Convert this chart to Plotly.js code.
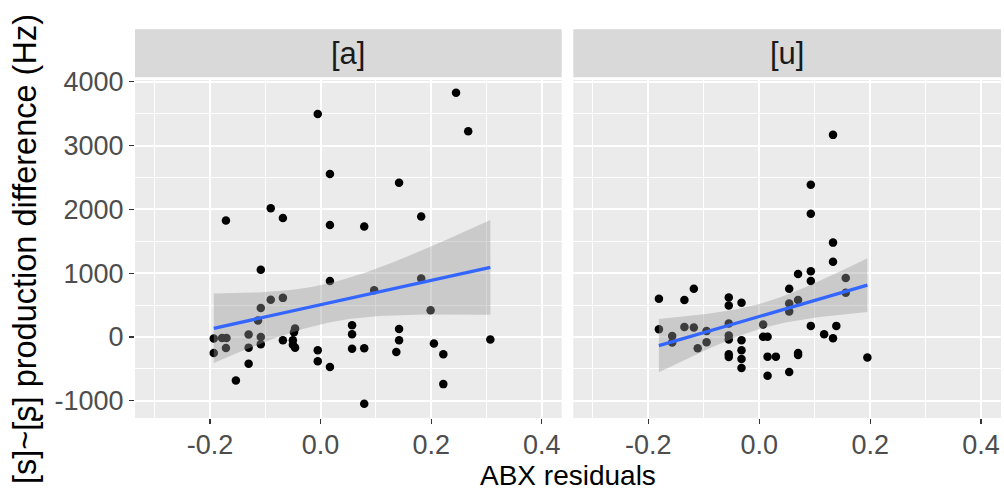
<!DOCTYPE html>
<html>
<head>
<meta charset="utf-8">
<script src="https://cdn.plot.ly/plotly-3.0.1.min.js"></script>
<style>html,body{margin:0;padding:0;background:#fff;}#chart{width:1004px;height:491px;}</style>
</head>
<body>
<div id="chart"></div>
<script>
// Facet labels
const facetLabels = ["[a]", "[u]"];

// Panel [a] data: ABX residuals vs production difference (Hz)
const xA = [-0.005, 0.017, -0.090, -0.171, -0.068, 0.017, -0.108, 0.017, -0.090, -0.068,
            -0.108, -0.113, -0.046, -0.048, -0.130, -0.193, -0.170, -0.178, -0.108, -0.108,
            -0.068, -0.050, -0.050, -0.046, -0.171, -0.193, -0.130, -0.130, -0.153, -0.005,
            -0.005, 0.017, 0.057, 0.057, 0.057, 0.245, 0.267, 0.142, 0.182, 0.079,
            0.182, 0.097, 0.199, 0.142, 0.142, 0.079, 0.137, 0.205, 0.222, 0.307,
            0.222, 0.079];
const yA = [3495, 2552, 2018, 1823, 1865, 1755, 1052, 875, 581, 612,
            455, 257, 131, 75, 37, -26, -17, -17, 0, -116,
            -53, -53, -121, -168, -173, -252, -168, -420, -682, -210,
            -383, -472, 183, 41, -184, 3826, 3222, 2416, 1886, 1729,
            917, 733, 419, 125, -53, -179, -237, -105, -273, -42,
            -740, -1048];

// Panel [u] data
const xU = [-0.181, -0.181, -0.157, -0.157, -0.135, -0.118, -0.135, -0.118, -0.111, -0.095,
            -0.095, -0.055, -0.055, -0.032, -0.055, -0.055, -0.055, -0.055, -0.055, -0.032,
            -0.032, -0.032, -0.032, 0.007, 0.007, 0.015, 0.015, 0.030, 0.015, 0.133,
            0.093, 0.093, 0.133, 0.133, 0.070, 0.093, 0.093, 0.054, 0.054, 0.070,
            0.054, 0.156, 0.156, 0.093, 0.139, 0.117, 0.133, 0.070, 0.070, 0.054,
            0.195];
const yU = [598, 121, 16, -88, 577, 755, 157, 148, -178, 94,
            -83, 619, 493, 535, 210, 22, -41, -272, -314, -52,
            -209, -346, -487, 195, 1, 1, -309, -309, -607, 3167,
            2385, 1929, 1478, 1179, 986, 1028, 876, 755, 525, 577,
            399, 923, 692, 173, 173, 42, -20, -251, -283, -550,
            -324];

// Axis ticks
const xTickVals = [-0.2, 0.0, 0.2, 0.4];
const xTickText = ["-0.2", "0.0", "0.2", "0.4"];
const xMinorVals = [-0.3, -0.1, 0.1, 0.3];
const yTickVals = [-1000, 0, 1000, 2000, 3000, 4000];
const yTickText = ["-1000", "0", "1000", "2000", "3000", "4000"];
const yMinorVals = [-500, 500, 1500, 2500, 3500];

// t quantile (0.975) via Cornish-Fisher expansion
function tq975(df) {
  const z = 1.959964;
  const g1 = (Math.pow(z,3) + z) / 4;
  const g2 = (5*Math.pow(z,5) + 16*Math.pow(z,3) + 3*z) / 96;
  const g3 = (3*Math.pow(z,7) + 19*Math.pow(z,5) + 17*Math.pow(z,3) - 15*z) / 384;
  return z + g1/df + g2/(df*df) + g3/(df*df*df);
}

// Linear fit with 95% confidence band (like geom_smooth(method = "lm"))
function lmBand(x, y) {
  const n = x.length;
  const mx = x.reduce((s,v)=>s+v,0)/n;
  const my = y.reduce((s,v)=>s+v,0)/n;
  let sxx = 0, sxy = 0;
  for (let i=0;i<n;i++){ sxx += (x[i]-mx)*(x[i]-mx); sxy += (x[i]-mx)*(y[i]-my); }
  const b = sxy/sxx, a = my - b*mx;
  let sse = 0;
  for (let i=0;i<n;i++){ const r = y[i] - (a + b*x[i]); sse += r*r; }
  const s = Math.sqrt(sse/(n-2));
  const t = tq975(n-2);
  const xmin = Math.min(...x), xmax = Math.max(...x);
  const xs = [], fit = [], lo = [], hi = [];
  for (let k=0;k<80;k++){
    const xv = xmin + (xmax-xmin)*k/79;
    const f = a + b*xv;
    const se = s*Math.sqrt(1/n + (xv-mx)*(xv-mx)/sxx);
    xs.push(xv); fit.push(f); lo.push(f - t*se); hi.push(f + t*se);
  }
  return {xs, fit, lo, hi};
}

const fA = lmBand(xA, yA);
const fU = lmBand(xU, yU);

const ptMarker = {color: '#000000', size: 8.5, line: {width: 0}};
const bandColor = 'rgba(153,153,153,0.4)';
const lineColor = '#3366FF';

function bandTrace(f, xa) {
  return {
    x: f.xs.concat(f.xs.slice().reverse()),
    y: f.hi.concat(f.lo.slice().reverse()),
    xaxis: xa, yaxis: 'y',
    mode: 'lines', fill: 'toself', fillcolor: bandColor,
    line: {width: 0, color: 'rgba(0,0,0,0)'}, hoverinfo: 'skip', showlegend: false
  };
}

const traces = [
  {x: xA, y: yA, xaxis: 'x', yaxis: 'y', mode: 'markers', type: 'scatter', marker: ptMarker, showlegend: false},
  {x: xU, y: yU, xaxis: 'x2', yaxis: 'y', mode: 'markers', type: 'scatter', marker: ptMarker, showlegend: false},
  bandTrace(fA, 'x'),
  bandTrace(fU, 'x2'),
  {x: fA.xs, y: fA.fit, xaxis: 'x', yaxis: 'y', mode: 'lines', line: {color: lineColor, width: 3.3}, showlegend: false},
  {x: fU.xs, y: fU.fit, xaxis: 'x2', yaxis: 'y', mode: 'lines', line: {color: lineColor, width: 3.3}, showlegend: false}
];

const FONT = '"Liberation Sans", Arial, Helvetica, sans-serif';
const tickFont = {family: FONT, size: 27, color: '#4D4D4D'};
const xr = [-0.3354, 0.436];

function xAxisDef(domain) {
  return {
    domain: domain, range: xr, anchor: 'y',
    tickmode: 'array', tickvals: xTickVals, ticktext: xTickText,
    ticks: 'outside', ticklen: 5, tickwidth: 1.2, tickcolor: '#333333',
    ticklabelstandoff: -2,
    tickfont: tickFont, showgrid: true, gridcolor: '#FFFFFF', gridwidth: 2,
    minor: {tickmode: 'array', tickvals: xMinorVals, showgrid: true, gridcolor: '#FFFFFF', gridwidth: 1, ticks: ''},
    zeroline: false, showline: false, fixedrange: true
  };
}

const L = 135, R = 3, T = 80, B = 73;
const W = 1004, H = 491;
const pw = W - L - R, ph = H - T - B;
const d1 = [0, (561.7 - L)/pw];
const d2 = [(573.3 - L)/pw, 1];
const stripY0 = 1 + (80 - 77.3)/ph, stripY1 = 1 + (80 - 29.3)/ph;

const layout = {
  width: W, height: H,
  margin: {l: L, r: R, t: T, b: B, pad: 0},
  paper_bgcolor: '#FFFFFF', plot_bgcolor: '#EBEBEB',
  showlegend: false,
  xaxis: xAxisDef(d1),
  xaxis2: xAxisDef(d2),
  yaxis: {
    domain: [0, 1], range: [-1271, 4027], anchor: 'x',
    tickmode: 'array', tickvals: yTickVals, ticktext: yTickText,
    ticks: 'outside', ticklen: 5, tickwidth: 1.2, tickcolor: '#333333',
    tickfont: tickFont, showgrid: true, gridcolor: '#FFFFFF', gridwidth: 2,
    minor: {tickmode: 'array', tickvals: yMinorVals, showgrid: true, gridcolor: '#FFFFFF', gridwidth: 1, ticks: ''},
    zeroline: false, showline: false, fixedrange: true
  },
  shapes: [
    {type: 'rect', xref: 'paper', yref: 'paper', x0: d1[0], x1: d1[1], y0: stripY0, y1: stripY1, fillcolor: '#D9D9D9', line: {width: 0}, layer: 'below'},
    {type: 'rect', xref: 'paper', yref: 'paper', x0: d2[0], x1: d2[1], y0: stripY0, y1: stripY1, fillcolor: '#D9D9D9', line: {width: 0}, layer: 'below'}
  ],
  annotations: [
    {text: facetLabels[0], xref: 'paper', yref: 'paper', x: (d1[0]+d1[1])/2, y: (stripY0+stripY1)/2, xanchor: 'center', yanchor: 'middle', showarrow: false, font: {family: FONT, size: 31, color: '#1A1A1A'}},
    {text: facetLabels[1], xref: 'paper', yref: 'paper', x: (d2[0]+d2[1])/2, y: (stripY0+stripY1)/2, xanchor: 'center', yanchor: 'middle', showarrow: false, font: {family: FONT, size: 31, color: '#1A1A1A'}},
    {text: 'ABX residuals', xref: 'paper', yref: 'paper', x: (d1[0]+d2[1])/2, y: (418 - 475)/ph, xanchor: 'center', yanchor: 'middle', showarrow: false, font: {family: FONT, size: 28, color: '#000000'}},
    {text: '[s]~[ʂ] production difference (Hz)', xref: 'paper', yref: 'paper', x: (25 - L)/pw, y: 0.5, xanchor: 'center', yanchor: 'middle', textangle: -90, showarrow: false, font: {family: FONT, size: 32.5, color: '#000000'}}
  ]
};

Plotly.newPlot('chart', traces, layout, {displayModeBar: false, staticPlot: true});
</script>
</body>
</html>
